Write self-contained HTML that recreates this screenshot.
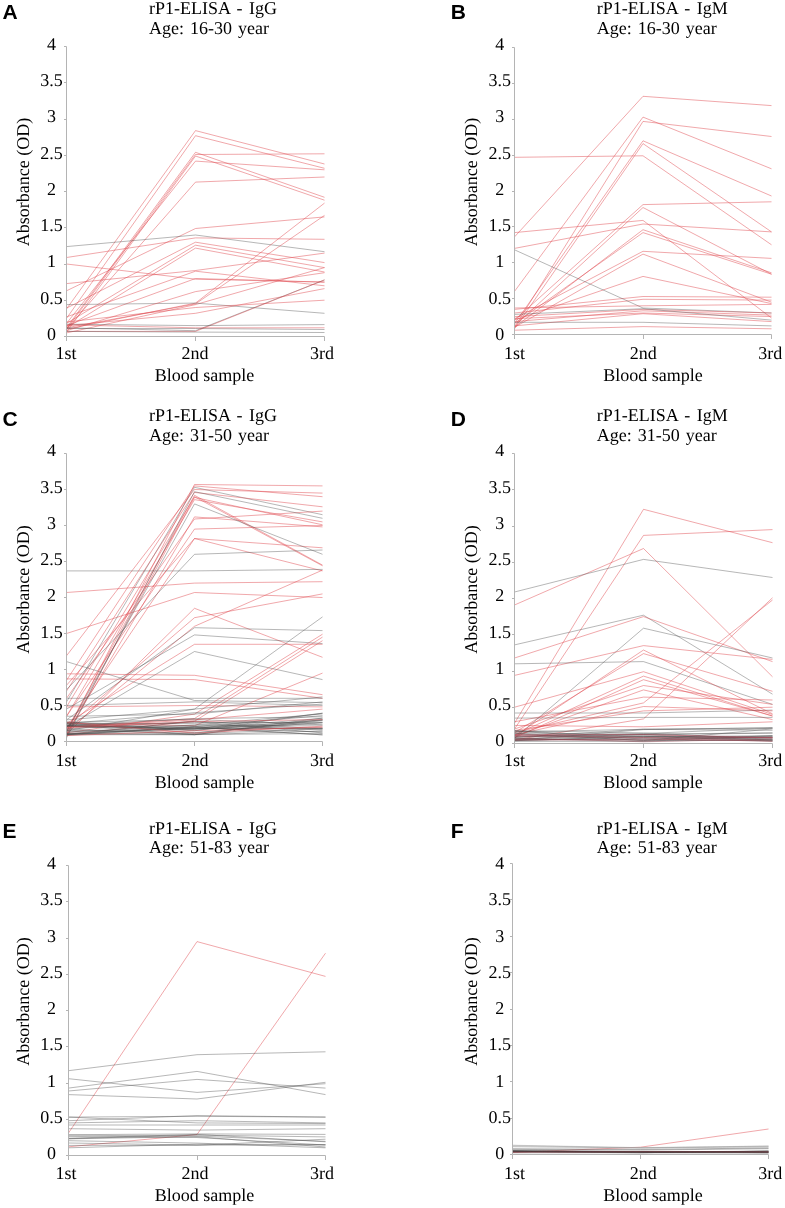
<!DOCTYPE html>
<html><head><meta charset="utf-8"><style>
html,body{margin:0;padding:0;background:#fff;width:785px;height:1208px;overflow:hidden;position:relative}
</style></head><body>
<svg width="785" height="1208" viewBox="0 0 785 1208" style="position:absolute;left:0;top:0;filter:blur(0.2px)">
<g fill="none" stroke-width="0.8"><polyline points="66.5,308.9 195.5,130.6 324.5,164.0" stroke="#e0484f" stroke-opacity="0.60"/><polyline points="66.5,318.4 195.5,135.7 324.5,168.3" stroke="#e0484f" stroke-opacity="0.60"/><polyline points="66.5,327.8 195.5,152.3 324.5,197.3" stroke="#e0484f" stroke-opacity="0.60"/><polyline points="66.5,329.2 195.5,154.5 324.5,153.8" stroke="#e0484f" stroke-opacity="0.60"/><polyline points="66.5,332.1 195.5,156.0 324.5,200.2" stroke="#e0484f" stroke-opacity="0.60"/><polyline points="66.5,323.4 195.5,161.1 324.5,169.8" stroke="#e0484f" stroke-opacity="0.60"/><polyline points="66.5,329.2 195.5,182.1 324.5,177.0" stroke="#e0484f" stroke-opacity="0.60"/><polyline points="66.5,290.8 195.5,228.5 324.5,216.9" stroke="#e0484f" stroke-opacity="0.60"/><polyline points="66.5,246.6 195.5,235.0 324.5,251.7" stroke="#4a4a4a" stroke-opacity="0.50"/><polyline points="66.5,257.5 195.5,237.9 324.5,239.3" stroke="#e0484f" stroke-opacity="0.60"/><polyline points="66.5,323.4 195.5,245.2 324.5,267.6" stroke="#e0484f" stroke-opacity="0.60"/><polyline points="66.5,327.8 195.5,248.1 324.5,272.0" stroke="#e0484f" stroke-opacity="0.60"/><polyline points="66.5,264.0 195.5,279.2 324.5,282.1" stroke="#e0484f" stroke-opacity="0.60"/><polyline points="66.5,283.6 195.5,270.5 324.5,253.1" stroke="#e0484f" stroke-opacity="0.60"/><polyline points="66.5,325.6 195.5,278.5 324.5,282.1" stroke="#e0484f" stroke-opacity="0.60"/><polyline points="66.5,329.2 195.5,303.1 324.5,203.1" stroke="#e0484f" stroke-opacity="0.60"/><polyline points="66.5,327.8 195.5,303.9 324.5,215.4" stroke="#e0484f" stroke-opacity="0.60"/><polyline points="66.5,332.9 195.5,304.6 324.5,267.6" stroke="#e0484f" stroke-opacity="0.60"/><polyline points="66.5,325.6 195.5,313.3 324.5,288.6" stroke="#e0484f" stroke-opacity="0.60"/><polyline points="66.5,304.6 195.5,303.1 324.5,313.3" stroke="#4a4a4a" stroke-opacity="0.50"/><polyline points="66.5,327.8 195.5,330.7 324.5,279.9" stroke="#4a4a4a" stroke-opacity="0.50"/><polyline points="66.5,331.4 195.5,331.4 324.5,279.9" stroke="#e0484f" stroke-opacity="0.60"/><polyline points="66.5,322.0 195.5,307.5 324.5,300.2" stroke="#e0484f" stroke-opacity="0.60"/><polyline points="66.5,324.2 195.5,325.6 324.5,324.6" stroke="#4a4a4a" stroke-opacity="0.50"/><polyline points="66.5,328.5 195.5,328.5 324.5,329.5" stroke="#4a4a4a" stroke-opacity="0.50"/><polyline points="66.5,331.4 195.5,332.1 324.5,332.5" stroke="#4a4a4a" stroke-opacity="0.50"/><polyline points="66.5,308.2 195.5,242.2 324.5,262.6" stroke="#e0484f" stroke-opacity="0.60"/><polyline points="66.5,316.9 195.5,271.2 324.5,285.8" stroke="#e0484f" stroke-opacity="0.60"/><polyline points="66.5,330.7 195.5,291.6 324.5,272.7" stroke="#e0484f" stroke-opacity="0.60"/><polyline points="66.5,324.9 195.5,327.8 324.5,327.8" stroke="#e0484f" stroke-opacity="0.60"/></g>
<g fill="none" stroke="#b4b4b4" stroke-width="1"><path d="M66.5 46.5 V336.5 H324.5" /><path d="M64.0 336.5 H66.5" /><path d="M64.0 300.5 H66.5" /><path d="M64.0 264.5 H66.5" /><path d="M64.0 227.5 H66.5" /><path d="M64.0 191.5 H66.5" /><path d="M64.0 155.5 H66.5" /><path d="M64.0 119.5 H66.5" /><path d="M64.0 82.5 H66.5" /><path d="M64.0 46.5 H66.5" /><path d="M66.5 336.5 V341.0" /><path d="M195.5 336.5 V341.0" /><path d="M324.5 336.5 V341.0" /></g>
<g font-family="Liberation Serif" font-size="18" fill="#000" text-rendering="geometricPrecision"><text x="51.4" y="339.8" text-anchor="middle">0</text><text x="51.4" y="303.5" text-anchor="middle">0.5</text><text x="51.4" y="267.3" text-anchor="middle">1</text><text x="51.4" y="231.0" text-anchor="middle">1.5</text><text x="51.4" y="194.7" text-anchor="middle">2</text><text x="51.4" y="158.5" text-anchor="middle">2.5</text><text x="51.4" y="122.2" text-anchor="middle">3</text><text x="51.4" y="86.0" text-anchor="middle">3.5</text><text x="51.4" y="49.7" text-anchor="middle">4</text><text x="66.1" y="359.2" text-anchor="middle">1st</text><text x="195.0" y="359.2" text-anchor="middle">2nd</text><text x="322.0" y="359.2" text-anchor="middle">3rd</text><text x="204.6" y="381.4" text-anchor="middle">Blood sample</text><text transform="translate(29.0 182.0) rotate(-90)" text-anchor="middle">Absorbance (OD)</text><text x="149.0" y="14.4" word-spacing="2">rP1-ELISA - IgG</text><text x="149.0" y="34.0" word-spacing="1.5">Age: 16-30 year</text></g>
<text x="2.5" y="19.3" font-family="Liberation Sans" font-weight="bold" font-size="21" fill="#000">A</text>
<g fill="none" stroke-width="0.8"><polyline points="514.5,236.9 643.0,96.3 771.5,105.6" stroke="#e0484f" stroke-opacity="0.60"/><polyline points="514.5,291.4 643.0,117.1 771.5,168.8" stroke="#e0484f" stroke-opacity="0.60"/><polyline points="514.5,327.3 643.0,121.4 771.5,136.5" stroke="#e0484f" stroke-opacity="0.60"/><polyline points="514.5,323.7 643.0,140.8 771.5,196.0" stroke="#e0484f" stroke-opacity="0.60"/><polyline points="514.5,328.8 643.0,143.6 771.5,231.9" stroke="#e0484f" stroke-opacity="0.60"/><polyline points="514.5,157.3 643.0,155.8 771.5,244.8" stroke="#e0484f" stroke-opacity="0.60"/><polyline points="514.5,320.1 643.0,204.6 771.5,201.8" stroke="#e0484f" stroke-opacity="0.60"/><polyline points="514.5,325.9 643.0,207.5 771.5,274.2" stroke="#e0484f" stroke-opacity="0.60"/><polyline points="514.5,232.6 643.0,220.4 771.5,318.0" stroke="#e0484f" stroke-opacity="0.60"/><polyline points="514.5,248.4 643.0,224.0 771.5,231.9" stroke="#e0484f" stroke-opacity="0.60"/><polyline points="514.5,327.3 643.0,229.7 771.5,272.8" stroke="#e0484f" stroke-opacity="0.60"/><polyline points="514.5,323.7 643.0,232.6 771.5,274.2" stroke="#e0484f" stroke-opacity="0.60"/><polyline points="514.5,318.7 643.0,251.3 771.5,258.4" stroke="#e0484f" stroke-opacity="0.60"/><polyline points="514.5,327.3 643.0,254.1 771.5,302.2" stroke="#e0484f" stroke-opacity="0.60"/><polyline points="514.5,320.1 643.0,276.4 771.5,303.6" stroke="#e0484f" stroke-opacity="0.60"/><polyline points="514.5,309.4 643.0,296.5 771.5,297.2" stroke="#e0484f" stroke-opacity="0.60"/><polyline points="514.5,313.0 643.0,299.3 771.5,300.1" stroke="#e0484f" stroke-opacity="0.60"/><polyline points="514.5,249.8 643.0,308.0 771.5,313.0" stroke="#4a4a4a" stroke-opacity="0.50"/><polyline points="514.5,308.0 643.0,305.8 771.5,304.4" stroke="#e0484f" stroke-opacity="0.60"/><polyline points="514.5,316.6 643.0,309.4 771.5,313.0" stroke="#e0484f" stroke-opacity="0.60"/><polyline points="514.5,321.6 643.0,310.8 771.5,315.1" stroke="#e0484f" stroke-opacity="0.60"/><polyline points="514.5,325.9 643.0,313.7 771.5,321.6" stroke="#e0484f" stroke-opacity="0.60"/><polyline points="514.5,322.3 643.0,322.3 771.5,325.9" stroke="#4a4a4a" stroke-opacity="0.50"/><polyline points="514.5,330.2 643.0,326.6 771.5,328.8" stroke="#e0484f" stroke-opacity="0.60"/><polyline points="514.5,318.7 643.0,313.0 771.5,316.6" stroke="#e0484f" stroke-opacity="0.60"/><polyline points="514.5,314.4 643.0,308.7 771.5,320.1" stroke="#4a4a4a" stroke-opacity="0.50"/></g>
<g fill="none" stroke="#b4b4b4" stroke-width="1"><path d="M514.5 47.5 V334.5 H771.5" /><path d="M512.0 334.5 H514.5" /><path d="M512.0 298.5 H514.5" /><path d="M512.0 262.5 H514.5" /><path d="M512.0 226.5 H514.5" /><path d="M512.0 191.5 H514.5" /><path d="M512.0 155.5 H514.5" /><path d="M512.0 119.5 H514.5" /><path d="M512.0 83.5 H514.5" /><path d="M512.0 47.5 H514.5" /><path d="M514.5 334.5 V339.0" /><path d="M643.5 334.5 V339.0" /><path d="M771.5 334.5 V339.0" /></g>
<g font-family="Liberation Serif" font-size="18" fill="#000" text-rendering="geometricPrecision"><text x="499.7" y="339.8" text-anchor="middle">0</text><text x="499.7" y="303.5" text-anchor="middle">0.5</text><text x="499.7" y="267.3" text-anchor="middle">1</text><text x="499.7" y="231.0" text-anchor="middle">1.5</text><text x="499.7" y="194.7" text-anchor="middle">2</text><text x="499.7" y="158.5" text-anchor="middle">2.5</text><text x="499.7" y="122.2" text-anchor="middle">3</text><text x="499.7" y="86.0" text-anchor="middle">3.5</text><text x="499.7" y="49.7" text-anchor="middle">4</text><text x="514.4" y="359.2" text-anchor="middle">1st</text><text x="643.3" y="359.2" text-anchor="middle">2nd</text><text x="770.3" y="359.2" text-anchor="middle">3rd</text><text x="652.9" y="381.4" text-anchor="middle">Blood sample</text><text transform="translate(477.3 182.0) rotate(-90)" text-anchor="middle">Absorbance (OD)</text><text x="596.8" y="14.4" word-spacing="2">rP1-ELISA - IgM</text><text x="596.8" y="34.0" word-spacing="1.5">Age: 16-30 year</text></g>
<text x="450.8" y="19.3" font-family="Liberation Sans" font-weight="bold" font-size="21" fill="#000">B</text>
<g fill="none" stroke-width="0.8"><polyline points="66.5,732.9 194.5,484.5 322.5,485.9" stroke="#e0484f" stroke-opacity="0.60"/><polyline points="66.5,701.9 194.5,487.3 322.5,514.7" stroke="#4a4a4a" stroke-opacity="0.50"/><polyline points="66.5,655.8 194.5,489.5 322.5,493.1" stroke="#e0484f" stroke-opacity="0.60"/><polyline points="66.5,691.1 194.5,492.4 322.5,506.8" stroke="#e0484f" stroke-opacity="0.60"/><polyline points="66.5,735.7 194.5,497.4 322.5,524.8" stroke="#e0484f" stroke-opacity="0.60"/><polyline points="66.5,730.7 194.5,495.3 322.5,565.1" stroke="#e0484f" stroke-opacity="0.60"/><polyline points="66.5,706.9 194.5,496.7 322.5,565.8" stroke="#e0484f" stroke-opacity="0.60"/><polyline points="66.5,716.3 194.5,499.6 322.5,521.9" stroke="#e0484f" stroke-opacity="0.60"/><polyline points="66.5,734.3 194.5,516.9 322.5,526.9" stroke="#e0484f" stroke-opacity="0.60"/><polyline points="66.5,698.3 194.5,519.0 322.5,511.1" stroke="#e0484f" stroke-opacity="0.60"/><polyline points="66.5,685.3 194.5,538.5 322.5,547.8" stroke="#e0484f" stroke-opacity="0.60"/><polyline points="66.5,728.5 194.5,538.5 322.5,570.9" stroke="#e0484f" stroke-opacity="0.60"/><polyline points="66.5,689.7 194.5,554.3 322.5,550.0" stroke="#4a4a4a" stroke-opacity="0.50"/><polyline points="66.5,570.9 194.5,570.9 322.5,569.4" stroke="#4a4a4a" stroke-opacity="0.50"/><polyline points="66.5,592.5 194.5,583.1 322.5,581.7" stroke="#e0484f" stroke-opacity="0.60"/><polyline points="66.5,633.5 194.5,592.5 322.5,597.5" stroke="#e0484f" stroke-opacity="0.60"/><polyline points="66.5,734.3 194.5,608.3 322.5,657.3" stroke="#e0484f" stroke-opacity="0.60"/><polyline points="66.5,727.1 194.5,617.7 322.5,593.9" stroke="#e0484f" stroke-opacity="0.60"/><polyline points="66.5,730.7 194.5,626.3 322.5,570.1" stroke="#e0484f" stroke-opacity="0.60"/><polyline points="66.5,719.9 194.5,627.7 322.5,630.6" stroke="#4a4a4a" stroke-opacity="0.50"/><polyline points="66.5,709.1 194.5,634.9 322.5,643.6" stroke="#4a4a4a" stroke-opacity="0.50"/><polyline points="66.5,723.5 194.5,644.3 322.5,644.3" stroke="#e0484f" stroke-opacity="0.60"/><polyline points="66.5,727.1 194.5,651.5 322.5,679.6" stroke="#4a4a4a" stroke-opacity="0.50"/><polyline points="66.5,673.8 194.5,675.3 322.5,694.7" stroke="#e0484f" stroke-opacity="0.60"/><polyline points="66.5,678.9 194.5,679.6 322.5,698.3" stroke="#e0484f" stroke-opacity="0.60"/><polyline points="66.5,661.6 194.5,700.5 322.5,702.6" stroke="#4a4a4a" stroke-opacity="0.50"/><polyline points="66.5,706.9 194.5,705.5 322.5,706.9" stroke="#e0484f" stroke-opacity="0.60"/><polyline points="66.5,730.7 194.5,709.1 322.5,616.9" stroke="#4a4a4a" stroke-opacity="0.50"/><polyline points="66.5,732.9 194.5,714.1 322.5,634.2" stroke="#e0484f" stroke-opacity="0.60"/><polyline points="66.5,727.1 194.5,718.5 322.5,637.1" stroke="#e0484f" stroke-opacity="0.60"/><polyline points="66.5,734.3 194.5,721.3 322.5,640.7" stroke="#e0484f" stroke-opacity="0.60"/><polyline points="66.5,723.5 194.5,725.7 322.5,673.1" stroke="#e0484f" stroke-opacity="0.60"/><polyline points="66.5,698.3 194.5,698.3 322.5,698.3" stroke="#4a4a4a" stroke-opacity="0.50"/><polyline points="66.5,705.5 194.5,701.9 322.5,705.5" stroke="#4a4a4a" stroke-opacity="0.50"/><polyline points="66.5,680.3 194.5,485.9 322.5,496.7" stroke="#e0484f" stroke-opacity="0.60"/><polyline points="66.5,737.9 194.5,491.7 322.5,518.3" stroke="#4a4a4a" stroke-opacity="0.50"/><polyline points="66.5,716.3 194.5,529.1 322.5,525.5" stroke="#e0484f" stroke-opacity="0.60"/><polyline points="66.5,731.4 194.5,503.9 322.5,554.3" stroke="#4a4a4a" stroke-opacity="0.50"/><polyline points="66.5,730.6 194.5,733.1 322.5,720.7" stroke="#4a4a4a" stroke-opacity="0.50"/><polyline points="66.5,734.6 194.5,726.5 322.5,727.3" stroke="#4a4a4a" stroke-opacity="0.50"/><polyline points="66.5,734.8 194.5,727.0 322.5,734.9" stroke="#4a4a4a" stroke-opacity="0.50"/><polyline points="66.5,728.9 194.5,734.5 322.5,733.6" stroke="#4a4a4a" stroke-opacity="0.50"/><polyline points="66.5,729.0 194.5,721.5 322.5,732.9" stroke="#4a4a4a" stroke-opacity="0.50"/><polyline points="66.5,732.2 194.5,724.9 322.5,713.9" stroke="#4a4a4a" stroke-opacity="0.50"/><polyline points="66.5,726.6 194.5,728.9 322.5,713.2" stroke="#4a4a4a" stroke-opacity="0.50"/><polyline points="66.5,735.0 194.5,720.9 322.5,729.1" stroke="#4a4a4a" stroke-opacity="0.50"/><polyline points="66.5,733.5 194.5,733.7 322.5,728.6" stroke="#4a4a4a" stroke-opacity="0.50"/><polyline points="66.5,722.8 194.5,732.6 322.5,722.3" stroke="#4a4a4a" stroke-opacity="0.50"/><polyline points="66.5,725.6 194.5,729.3 322.5,723.1" stroke="#4a4a4a" stroke-opacity="0.50"/><polyline points="66.5,734.7 194.5,734.7 322.5,731.0" stroke="#4a4a4a" stroke-opacity="0.50"/><polyline points="66.5,725.0 194.5,728.4 322.5,728.5" stroke="#4a4a4a" stroke-opacity="0.50"/><polyline points="66.5,726.5 194.5,727.9 322.5,728.8" stroke="#4a4a4a" stroke-opacity="0.50"/><polyline points="66.5,723.2 194.5,723.7 322.5,730.1" stroke="#4a4a4a" stroke-opacity="0.50"/><polyline points="66.5,726.6 194.5,726.7 322.5,715.6" stroke="#4a4a4a" stroke-opacity="0.50"/><polyline points="66.5,724.2 194.5,730.8 322.5,713.2" stroke="#4a4a4a" stroke-opacity="0.50"/><polyline points="66.5,733.9 194.5,728.5 322.5,718.3" stroke="#4a4a4a" stroke-opacity="0.50"/><polyline points="66.5,733.3 194.5,727.3 322.5,734.8" stroke="#4a4a4a" stroke-opacity="0.50"/><polyline points="66.5,725.2 194.5,722.5 322.5,722.5" stroke="#4a4a4a" stroke-opacity="0.50"/><polyline points="66.5,721.9 194.5,730.3 322.5,719.7" stroke="#4a4a4a" stroke-opacity="0.50"/><polyline points="66.5,726.3 194.5,725.7 322.5,725.2" stroke="#4a4a4a" stroke-opacity="0.50"/><polyline points="66.5,722.4 194.5,719.4 322.5,724.8" stroke="#4a4a4a" stroke-opacity="0.50"/><polyline points="66.5,725.2 194.5,734.7 322.5,719.6" stroke="#4a4a4a" stroke-opacity="0.50"/><polyline points="66.5,725.5 194.5,718.6 322.5,716.8" stroke="#4a4a4a" stroke-opacity="0.50"/><polyline points="66.5,731.2 194.5,729.1 322.5,720.3" stroke="#4a4a4a" stroke-opacity="0.50"/><polyline points="66.5,735.4 194.5,727.8 322.5,731.9" stroke="#4a4a4a" stroke-opacity="0.50"/><polyline points="66.5,733.9 194.5,734.7 322.5,718.0" stroke="#4a4a4a" stroke-opacity="0.50"/><polyline points="66.5,735.6 194.5,730.7 322.5,727.3" stroke="#e0484f" stroke-opacity="0.60"/><polyline points="66.5,722.2 194.5,733.1 322.5,726.2" stroke="#e0484f" stroke-opacity="0.60"/><polyline points="66.5,728.0 194.5,721.6 322.5,719.6" stroke="#e0484f" stroke-opacity="0.60"/><polyline points="66.5,719.9 194.5,709.1 322.5,696.9" stroke="#4a4a4a" stroke-opacity="0.50"/><polyline points="66.5,723.5 194.5,712.7 322.5,704.1" stroke="#4a4a4a" stroke-opacity="0.50"/><polyline points="66.5,727.1 194.5,719.9 322.5,709.1" stroke="#e0484f" stroke-opacity="0.60"/><polyline points="66.5,716.3 194.5,714.1 322.5,701.9" stroke="#4a4a4a" stroke-opacity="0.50"/></g>
<g fill="none" stroke="#b4b4b4" stroke-width="1"><path d="M66.5 453.5 V741.5 H322.5" /><path d="M64.0 741.5 H66.5" /><path d="M64.0 705.5 H66.5" /><path d="M64.0 669.5 H66.5" /><path d="M64.0 633.5 H66.5" /><path d="M64.0 597.5 H66.5" /><path d="M64.0 561.5 H66.5" /><path d="M64.0 525.5 H66.5" /><path d="M64.0 489.5 H66.5" /><path d="M64.0 453.5 H66.5" /><path d="M66.5 741.5 V746.0" /><path d="M194.5 741.5 V746.0" /><path d="M322.5 741.5 V746.0" /></g>
<g font-family="Liberation Serif" font-size="18" fill="#000" text-rendering="geometricPrecision"><text x="51.4" y="746.3" text-anchor="middle">0</text><text x="51.4" y="710.0" text-anchor="middle">0.5</text><text x="51.4" y="673.8" text-anchor="middle">1</text><text x="51.4" y="637.5" text-anchor="middle">1.5</text><text x="51.4" y="601.2" text-anchor="middle">2</text><text x="51.4" y="565.0" text-anchor="middle">2.5</text><text x="51.4" y="528.7" text-anchor="middle">3</text><text x="51.4" y="492.5" text-anchor="middle">3.5</text><text x="51.4" y="456.2" text-anchor="middle">4</text><text x="66.1" y="765.7" text-anchor="middle">1st</text><text x="195.0" y="765.7" text-anchor="middle">2nd</text><text x="322.0" y="765.7" text-anchor="middle">3rd</text><text x="204.6" y="787.9" text-anchor="middle">Blood sample</text><text transform="translate(29.0 589.6) rotate(-90)" text-anchor="middle">Absorbance (OD)</text><text x="149.0" y="420.9" word-spacing="2">rP1-ELISA - IgG</text><text x="149.0" y="440.5" word-spacing="1.5">Age: 31-50 year</text></g>
<text x="2.5" y="425.9" font-family="Liberation Sans" font-weight="bold" font-size="21" fill="#000">C</text>
<g fill="none" stroke-width="0.8"><polyline points="514.5,723.2 643.5,509.3 772.5,542.7" stroke="#e0484f" stroke-opacity="0.60"/><polyline points="514.5,729.0 643.5,535.4 772.5,529.6" stroke="#e0484f" stroke-opacity="0.60"/><polyline points="514.5,605.0 643.5,548.5 772.5,676.8" stroke="#e0484f" stroke-opacity="0.60"/><polyline points="514.5,592.0 643.5,559.4 772.5,577.5" stroke="#4a4a4a" stroke-opacity="0.50"/><polyline points="514.5,644.9 643.5,615.2 772.5,694.2" stroke="#4a4a4a" stroke-opacity="0.50"/><polyline points="514.5,658.0 643.5,616.6 772.5,661.6" stroke="#e0484f" stroke-opacity="0.60"/><polyline points="514.5,738.4 643.5,628.2 772.5,658.0" stroke="#4a4a4a" stroke-opacity="0.50"/><polyline points="514.5,675.4 643.5,645.6 772.5,659.4" stroke="#e0484f" stroke-opacity="0.60"/><polyline points="514.5,663.8 643.5,661.6 772.5,704.4" stroke="#4a4a4a" stroke-opacity="0.50"/><polyline points="514.5,736.2 643.5,650.0 772.5,713.8" stroke="#e0484f" stroke-opacity="0.60"/><polyline points="514.5,732.6 643.5,653.6 772.5,691.3" stroke="#e0484f" stroke-opacity="0.60"/><polyline points="514.5,707.2 643.5,671.7 772.5,714.5" stroke="#e0484f" stroke-opacity="0.60"/><polyline points="514.5,734.8 643.5,676.1 772.5,716.0" stroke="#e0484f" stroke-opacity="0.60"/><polyline points="514.5,737.7 643.5,679.7 772.5,716.0" stroke="#e0484f" stroke-opacity="0.60"/><polyline points="514.5,729.0 643.5,685.5 772.5,704.4" stroke="#e0484f" stroke-opacity="0.60"/><polyline points="514.5,736.2 643.5,689.9 772.5,719.6" stroke="#e0484f" stroke-opacity="0.60"/><polyline points="514.5,721.8 643.5,697.1 772.5,700.0" stroke="#e0484f" stroke-opacity="0.60"/><polyline points="514.5,739.9 643.5,718.9 772.5,597.8" stroke="#e0484f" stroke-opacity="0.60"/><polyline points="514.5,732.6 643.5,702.9 772.5,600.0" stroke="#e0484f" stroke-opacity="0.60"/><polyline points="514.5,713.0 643.5,713.0 772.5,710.1" stroke="#4a4a4a" stroke-opacity="0.50"/><polyline points="514.5,718.1 643.5,717.4 772.5,717.4" stroke="#4a4a4a" stroke-opacity="0.50"/><polyline points="514.5,734.8 643.5,706.5 772.5,710.9" stroke="#e0484f" stroke-opacity="0.60"/><polyline points="514.5,725.4 643.5,726.8 772.5,721.8" stroke="#e0484f" stroke-opacity="0.60"/><polyline points="514.5,730.5 643.5,710.9 772.5,707.2" stroke="#e0484f" stroke-opacity="0.60"/><polyline points="514.5,730.8 643.5,737.5 772.5,735.6" stroke="#4a4a4a" stroke-opacity="0.50"/><polyline points="514.5,737.4 643.5,729.1 772.5,728.1" stroke="#4a4a4a" stroke-opacity="0.50"/><polyline points="514.5,740.1 643.5,738.9 772.5,738.1" stroke="#4a4a4a" stroke-opacity="0.50"/><polyline points="514.5,739.0 643.5,734.6 772.5,733.2" stroke="#4a4a4a" stroke-opacity="0.50"/><polyline points="514.5,738.6 643.5,741.3 772.5,735.6" stroke="#4a4a4a" stroke-opacity="0.50"/><polyline points="514.5,737.2 643.5,733.5 772.5,728.2" stroke="#4a4a4a" stroke-opacity="0.50"/><polyline points="514.5,733.0 643.5,734.2 772.5,732.8" stroke="#4a4a4a" stroke-opacity="0.50"/><polyline points="514.5,733.2 643.5,740.6 772.5,728.9" stroke="#4a4a4a" stroke-opacity="0.50"/><polyline points="514.5,731.9 643.5,729.3 772.5,730.3" stroke="#4a4a4a" stroke-opacity="0.50"/><polyline points="514.5,736.9 643.5,735.8 772.5,739.9" stroke="#4a4a4a" stroke-opacity="0.50"/><polyline points="514.5,733.8 643.5,740.5 772.5,740.4" stroke="#4a4a4a" stroke-opacity="0.50"/><polyline points="514.5,739.3 643.5,739.1 772.5,736.6" stroke="#4a4a4a" stroke-opacity="0.50"/><polyline points="514.5,741.4 643.5,741.3 772.5,739.2" stroke="#4a4a4a" stroke-opacity="0.50"/><polyline points="514.5,740.7 643.5,736.3 772.5,741.0" stroke="#4a4a4a" stroke-opacity="0.50"/><polyline points="514.5,730.6 643.5,732.9 772.5,739.3" stroke="#4a4a4a" stroke-opacity="0.50"/><polyline points="514.5,738.8 643.5,736.5 772.5,736.3" stroke="#4a4a4a" stroke-opacity="0.50"/><polyline points="514.5,740.4 643.5,729.6 772.5,727.6" stroke="#4a4a4a" stroke-opacity="0.50"/><polyline points="514.5,736.0 643.5,734.7 772.5,740.1" stroke="#4a4a4a" stroke-opacity="0.50"/><polyline points="514.5,740.7 643.5,736.6 772.5,737.7" stroke="#4a4a4a" stroke-opacity="0.50"/><polyline points="514.5,731.2 643.5,739.1 772.5,741.0" stroke="#4a4a4a" stroke-opacity="0.50"/><polyline points="514.5,735.2 643.5,737.5 772.5,741.2" stroke="#a04050" stroke-opacity="0.50"/><polyline points="514.5,738.1 643.5,741.8 772.5,739.0" stroke="#a04050" stroke-opacity="0.50"/><polyline points="514.5,735.0 643.5,734.5 772.5,738.0" stroke="#a04050" stroke-opacity="0.50"/><polyline points="514.5,740.2 643.5,738.9 772.5,741.1" stroke="#a04050" stroke-opacity="0.50"/><polyline points="514.5,736.5 643.5,737.4 772.5,737.5" stroke="#a04050" stroke-opacity="0.50"/><polyline points="514.5,739.7 643.5,740.1 772.5,737.3" stroke="#a04050" stroke-opacity="0.50"/><polyline points="514.5,734.9 643.5,734.6 772.5,737.4" stroke="#a04050" stroke-opacity="0.50"/></g>
<g fill="none" stroke="#b4b4b4" stroke-width="1"><path d="M514.5 453.5 V743.5 H772.5" /><path d="M512.0 743.5 H514.5" /><path d="M512.0 707.5 H514.5" /><path d="M512.0 671.5 H514.5" /><path d="M512.0 634.5 H514.5" /><path d="M512.0 598.5 H514.5" /><path d="M512.0 562.5 H514.5" /><path d="M512.0 526.5 H514.5" /><path d="M512.0 489.5 H514.5" /><path d="M512.0 453.5 H514.5" /><path d="M514.5 743.5 V748.0" /><path d="M643.5 743.5 V748.0" /><path d="M772.5 743.5 V748.0" /></g>
<g font-family="Liberation Serif" font-size="18" fill="#000" text-rendering="geometricPrecision"><text x="499.7" y="746.3" text-anchor="middle">0</text><text x="499.7" y="710.0" text-anchor="middle">0.5</text><text x="499.7" y="673.8" text-anchor="middle">1</text><text x="499.7" y="637.5" text-anchor="middle">1.5</text><text x="499.7" y="601.2" text-anchor="middle">2</text><text x="499.7" y="565.0" text-anchor="middle">2.5</text><text x="499.7" y="528.7" text-anchor="middle">3</text><text x="499.7" y="492.5" text-anchor="middle">3.5</text><text x="499.7" y="456.2" text-anchor="middle">4</text><text x="514.4" y="765.7" text-anchor="middle">1st</text><text x="643.3" y="765.7" text-anchor="middle">2nd</text><text x="770.3" y="765.7" text-anchor="middle">3rd</text><text x="652.9" y="787.9" text-anchor="middle">Blood sample</text><text transform="translate(477.3 589.6) rotate(-90)" text-anchor="middle">Absorbance (OD)</text><text x="596.8" y="420.9" word-spacing="2">rP1-ELISA - IgM</text><text x="596.8" y="440.5" word-spacing="1.5">Age: 31-50 year</text></g>
<text x="450.8" y="425.9" font-family="Liberation Sans" font-weight="bold" font-size="21" fill="#000">D</text>
<g fill="none" stroke-width="0.8"><polyline points="68.5,1133.0 197.0,941.6 325.5,976.4" stroke="#e0484f" stroke-opacity="0.60"/><polyline points="68.5,1146.8 197.0,1134.5 325.5,953.2" stroke="#e0484f" stroke-opacity="0.60"/><polyline points="68.5,1070.7 197.0,1054.7 325.5,1051.8" stroke="#4a4a4a" stroke-opacity="0.50"/><polyline points="68.5,1078.7 197.0,1092.4 325.5,1083.7" stroke="#4a4a4a" stroke-opacity="0.50"/><polyline points="68.5,1088.1 197.0,1071.4 325.5,1094.6" stroke="#4a4a4a" stroke-opacity="0.50"/><polyline points="68.5,1091.0 197.0,1079.4 325.5,1088.1" stroke="#4a4a4a" stroke-opacity="0.50"/><polyline points="68.5,1094.6 197.0,1099.0 325.5,1082.3" stroke="#4a4a4a" stroke-opacity="0.50"/><polyline points="68.5,1117.1 197.0,1116.3 325.5,1117.1" stroke="#4a4a4a" stroke-opacity="0.50"/><polyline points="68.5,1120.7 197.0,1115.6 325.5,1117.1" stroke="#4a4a4a" stroke-opacity="0.50"/><polyline points="68.5,1117.1 197.0,1122.9 325.5,1123.6" stroke="#4a4a4a" stroke-opacity="0.50"/><polyline points="68.5,1122.9 197.0,1120.7 325.5,1122.9" stroke="#4a4a4a" stroke-opacity="0.50"/><polyline points="68.5,1125.0 197.0,1125.0 325.5,1125.0" stroke="#4a4a4a" stroke-opacity="0.50"/><polyline points="68.5,1128.7 197.0,1130.1 325.5,1128.7" stroke="#4a4a4a" stroke-opacity="0.50"/><polyline points="68.5,1136.4 197.0,1137.5 325.5,1145.0" stroke="#4a4a4a" stroke-opacity="0.50"/><polyline points="68.5,1140.7 197.0,1143.1 325.5,1147.8" stroke="#4a4a4a" stroke-opacity="0.50"/><polyline points="68.5,1147.8 197.0,1144.2 325.5,1144.5" stroke="#4a4a4a" stroke-opacity="0.50"/><polyline points="68.5,1138.2 197.0,1134.4 325.5,1141.8" stroke="#4a4a4a" stroke-opacity="0.50"/><polyline points="68.5,1134.7 197.0,1133.9 325.5,1134.4" stroke="#4a4a4a" stroke-opacity="0.50"/><polyline points="68.5,1143.0 197.0,1145.1 325.5,1145.0" stroke="#4a4a4a" stroke-opacity="0.50"/><polyline points="68.5,1145.4 197.0,1145.3 325.5,1139.2" stroke="#4a4a4a" stroke-opacity="0.50"/><polyline points="68.5,1135.2 197.0,1136.1 325.5,1141.3" stroke="#4a4a4a" stroke-opacity="0.50"/><polyline points="68.5,1138.8 197.0,1136.7 325.5,1147.0" stroke="#4a4a4a" stroke-opacity="0.50"/><polyline points="68.5,1138.7 197.0,1135.1 325.5,1136.9" stroke="#4a4a4a" stroke-opacity="0.50"/></g>
<g fill="none" stroke="#b4b4b4" stroke-width="1"><path d="M68.5 865.5 V1155.5 H325.5" /><path d="M66.0 1155.5 H68.5" /><path d="M66.0 1119.5 H68.5" /><path d="M66.0 1083.5 H68.5" /><path d="M66.0 1046.5 H68.5" /><path d="M66.0 1010.5 H68.5" /><path d="M66.0 974.5 H68.5" /><path d="M66.0 938.5 H68.5" /><path d="M66.0 901.5 H68.5" /><path d="M66.0 865.5 H68.5" /><path d="M68.5 1155.5 V1160.0" /><path d="M197.5 1155.5 V1160.0" /><path d="M325.5 1155.5 V1160.0" /></g>
<g font-family="Liberation Serif" font-size="18" fill="#000" text-rendering="geometricPrecision"><text x="51.4" y="1159.1" text-anchor="middle">0</text><text x="51.4" y="1122.8" text-anchor="middle">0.5</text><text x="51.4" y="1086.6" text-anchor="middle">1</text><text x="51.4" y="1050.3" text-anchor="middle">1.5</text><text x="51.4" y="1014.0" text-anchor="middle">2</text><text x="51.4" y="977.8" text-anchor="middle">2.5</text><text x="51.4" y="941.5" text-anchor="middle">3</text><text x="51.4" y="905.3" text-anchor="middle">3.5</text><text x="51.4" y="869.0" text-anchor="middle">4</text><text x="66.1" y="1178.5" text-anchor="middle">1st</text><text x="195.0" y="1178.5" text-anchor="middle">2nd</text><text x="322.0" y="1178.5" text-anchor="middle">3rd</text><text x="204.6" y="1200.7" text-anchor="middle">Blood sample</text><text transform="translate(29.0 1001.6) rotate(-90)" text-anchor="middle">Absorbance (OD)</text><text x="149.0" y="833.7" word-spacing="2">rP1-ELISA - IgG</text><text x="149.0" y="853.3" word-spacing="1.5">Age: 51-83 year</text></g>
<text x="2.5" y="837.9" font-family="Liberation Sans" font-weight="bold" font-size="21" fill="#000">E</text>
<g fill="none" stroke-width="0.8"><polyline points="512.5,1152.3 640.5,1147.2 768.5,1129.0" stroke="#e0484f" stroke-opacity="0.60"/><polyline points="512.5,1151.4 640.5,1152.0 768.5,1152.7" stroke="#3a3a3a" stroke-opacity="0.50"/><polyline points="512.5,1151.3 640.5,1152.3 768.5,1151.3" stroke="#3a3a3a" stroke-opacity="0.50"/><polyline points="512.5,1150.9 640.5,1152.2 768.5,1152.2" stroke="#3a3a3a" stroke-opacity="0.50"/><polyline points="512.5,1151.0 640.5,1151.5 768.5,1152.7" stroke="#3a3a3a" stroke-opacity="0.50"/><polyline points="512.5,1152.8 640.5,1152.7 768.5,1151.1" stroke="#3a3a3a" stroke-opacity="0.50"/><polyline points="512.5,1151.3 640.5,1152.7 768.5,1151.2" stroke="#3a3a3a" stroke-opacity="0.50"/><polyline points="512.5,1150.9 640.5,1151.6 768.5,1152.3" stroke="#3a3a3a" stroke-opacity="0.50"/><polyline points="512.5,1151.8 640.5,1152.8 768.5,1153.0" stroke="#3a3a3a" stroke-opacity="0.50"/><polyline points="512.5,1150.9 640.5,1151.6 768.5,1151.9" stroke="#3a3a3a" stroke-opacity="0.50"/><polyline points="512.5,1151.0 640.5,1152.1 768.5,1151.1" stroke="#3a3a3a" stroke-opacity="0.50"/><polyline points="512.5,1145.4 640.5,1148.1 768.5,1146.7" stroke="#9a9a9a" stroke-opacity="0.50"/><polyline points="512.5,1146.6 640.5,1148.0 768.5,1145.9" stroke="#9a9a9a" stroke-opacity="0.50"/><polyline points="512.5,1146.7 640.5,1147.5 768.5,1146.9" stroke="#9a9a9a" stroke-opacity="0.50"/><polyline points="512.5,1145.2 640.5,1147.7 768.5,1146.2" stroke="#9a9a9a" stroke-opacity="0.50"/><polyline points="512.5,1152.0 640.5,1151.6 768.5,1152.3" stroke="#7a2a35" stroke-opacity="0.50"/><polyline points="512.5,1152.3 640.5,1152.0 768.5,1151.6" stroke="#7a2a35" stroke-opacity="0.50"/><polyline points="512.5,1149.4 640.5,1150.1 768.5,1148.7" stroke="#4a4a4a" stroke-opacity="0.50"/><polyline points="512.5,1148.7 640.5,1149.4 768.5,1148.0" stroke="#4a4a4a" stroke-opacity="0.50"/></g>
<g fill="none" stroke="#b4b4b4" stroke-width="1"><path d="M512.5 863.5 V1154.5 H768.5" /><path d="M510.0 1154.5 H512.5" /><path d="M510.0 1118.5 H512.5" /><path d="M510.0 1081.5 H512.5" /><path d="M510.0 1045.5 H512.5" /><path d="M510.0 1009.5 H512.5" /><path d="M510.0 972.5 H512.5" /><path d="M510.0 936.5 H512.5" /><path d="M510.0 899.5 H512.5" /><path d="M510.0 863.5 H512.5" /><path d="M512.5 1154.5 V1159.0" /><path d="M640.5 1154.5 V1159.0" /><path d="M768.5 1154.5 V1159.0" /></g>
<g font-family="Liberation Serif" font-size="18" fill="#000" text-rendering="geometricPrecision"><text x="499.7" y="1159.1" text-anchor="middle">0</text><text x="499.7" y="1122.8" text-anchor="middle">0.5</text><text x="499.7" y="1086.6" text-anchor="middle">1</text><text x="499.7" y="1050.3" text-anchor="middle">1.5</text><text x="499.7" y="1014.0" text-anchor="middle">2</text><text x="499.7" y="977.8" text-anchor="middle">2.5</text><text x="499.7" y="941.5" text-anchor="middle">3</text><text x="499.7" y="905.3" text-anchor="middle">3.5</text><text x="499.7" y="869.0" text-anchor="middle">4</text><text x="514.4" y="1178.5" text-anchor="middle">1st</text><text x="643.3" y="1178.5" text-anchor="middle">2nd</text><text x="770.3" y="1178.5" text-anchor="middle">3rd</text><text x="652.9" y="1200.7" text-anchor="middle">Blood sample</text><text transform="translate(477.3 1001.6) rotate(-90)" text-anchor="middle">Absorbance (OD)</text><text x="596.8" y="833.7" word-spacing="2">rP1-ELISA - IgM</text><text x="596.8" y="853.3" word-spacing="1.5">Age: 51-83 year</text></g>
<text x="450.8" y="837.9" font-family="Liberation Sans" font-weight="bold" font-size="21" fill="#000">F</text>
</svg>
</body></html>
